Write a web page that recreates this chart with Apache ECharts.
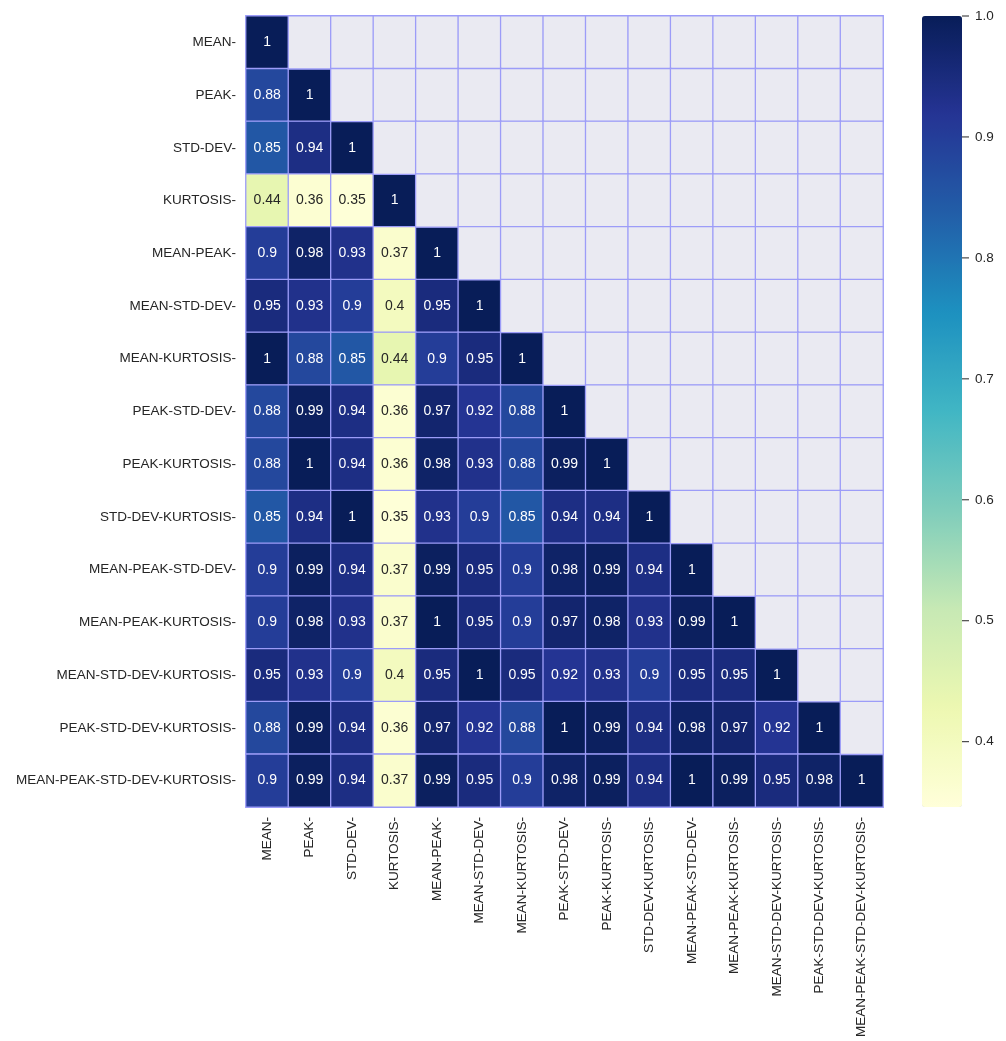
<!DOCTYPE html>
<html>
<head>
<meta charset="utf-8">
<title>Feature correlation heatmap</title>
<script src="https://cdn.jsdelivr.net/npm/echarts@6/dist/echarts.min.js"></script>
<style>
  html, body { margin: 0; padding: 0; background: #ffffff; }
  #chart { width: 1006px; height: 1041px; }
</style>
</head>
<body>
<div id="chart"></div>
<script>
// Feature combinations (row and column order are the same)
const features = [
  'MEAN-', 'PEAK-', 'STD-DEV-', 'KURTOSIS-', 'MEAN-PEAK-', 'MEAN-STD-DEV-',
  'MEAN-KURTOSIS-', 'PEAK-STD-DEV-', 'PEAK-KURTOSIS-', 'STD-DEV-KURTOSIS-',
  'MEAN-PEAK-STD-DEV-', 'MEAN-PEAK-KURTOSIS-', 'MEAN-STD-DEV-KURTOSIS-',
  'PEAK-STD-DEV-KURTOSIS-', 'MEAN-PEAK-STD-DEV-KURTOSIS-'
];

// Lower triangle of the correlation matrix, one row per feature
const rowMean = [1];
const rowPeak = [0.88, 1];
const rowStd = [0.85, 0.94, 1];
const rowKurt = [0.44, 0.36, 0.35, 1];
const rowMeanPeak = [0.9, 0.98, 0.93, 0.37, 1];
const rowMeanStd = [0.95, 0.93, 0.9, 0.4, 0.95, 1];
const rowMeanKurt = [1, 0.88, 0.85, 0.44, 0.9, 0.95, 1];
const rowPeakStd = [0.88, 0.99, 0.94, 0.36, 0.97, 0.92, 0.88, 1];
const rowPeakKurt = [0.88, 1, 0.94, 0.36, 0.98, 0.93, 0.88, 0.99, 1];
const rowStdKurt = [0.85, 0.94, 1, 0.35, 0.93, 0.9, 0.85, 0.94, 0.94, 1];
const rowMeanPeakStd = [0.9, 0.99, 0.94, 0.37, 0.99, 0.95, 0.9, 0.98, 0.99, 0.94, 1];
const rowMeanPeakKurt = [0.9, 0.98, 0.93, 0.37, 1, 0.95, 0.9, 0.97, 0.98, 0.93, 0.99, 1];
const rowMeanStdKurt = [0.95, 0.93, 0.9, 0.4, 0.95, 1, 0.95, 0.92, 0.93, 0.9, 0.95, 0.95, 1];
const rowPeakStdKurt = [0.88, 0.99, 0.94, 0.36, 0.97, 0.92, 0.88, 1, 0.99, 0.94, 0.98, 0.97, 0.92, 1];
const rowAll = [0.9, 0.99, 0.94, 0.37, 0.99, 0.95, 0.9, 0.98, 0.99, 0.94, 1, 0.99, 0.95, 0.98, 1];

const matrixRows = [
  rowMean, rowPeak, rowStd, rowKurt, rowMeanPeak, rowMeanStd, rowMeanKurt,
  rowPeakStd, rowPeakKurt, rowStdKurt, rowMeanPeakStd, rowMeanPeakKurt,
  rowMeanStdKurt, rowPeakStdKurt, rowAll
];

// Colour bar tick labels
const colorbarTicks = [0.4, 0.5, 0.6, 0.7, 0.8, 0.9, 1.0];
const colorMin = 0.346;
const colorMax = 1.0;

// YlGnBu colour ramp
const ylGnBu = ['#ffffd9', '#edf8b1', '#c7e9b4', '#7fcdbb', '#41b6c4',
                '#1d91c0', '#225ea8', '#253494', '#081d58'];

const FONT = "'Liberation Sans', Arial, Helvetica, sans-serif";
const TEXT_DARK = '#262626';
const CELL_EDGE = '#9c9cf8';
const TICK_LEN = 7;

const lowerCells = [];
const upperCells = [];
matrixRows.forEach((row, r) => {
  for (let c = 0; c < features.length; c++) {
    if (c < row.length) {
      const v = row[c];
      lowerCells.push({
        value: [c, r, v],
        label: { color: v < 0.6 ? TEXT_DARK : '#ffffff' }
      });
    } else {
      upperCells.push([c, r, 0]);
    }
  }
});

const chart = echarts.init(document.getElementById('chart'), null, { renderer: 'canvas' });

chart.setOption({
  backgroundColor: '#ffffff',
  animation: false,
  textStyle: { fontFamily: FONT },
  grid: [
    { left: 246, top: 16, width: 637, height: 791, containLabel: false },
    { left: 922, top: 16, width: 40, height: 791, containLabel: false }
  ],
  xAxis: [
    {
      type: 'category', gridIndex: 0, data: features, position: 'bottom',
      axisLine: { show: false }, axisTick: { show: false }, splitLine: { show: false },
      axisLabel: {
        rotate: 90, interval: 0, margin: 10,
        color: TEXT_DARK, fontSize: 13.5, fontFamily: FONT
      }
    },
    { type: 'value', gridIndex: 1, show: false, min: 0, max: 1 }
  ],
  yAxis: [
    {
      type: 'category', gridIndex: 0, data: features, inverse: true,
      axisLine: { show: false }, axisTick: { show: false }, splitLine: { show: false },
      axisLabel: {
        interval: 0, margin: 10,
        color: TEXT_DARK, fontSize: 13.5, fontFamily: FONT
      }
    },
    {
      type: 'value', gridIndex: 1, position: 'right',
      min: colorMin, max: colorMax,
      axisLine: { show: false },
      splitLine: { show: false },
      axisTick: { show: false },
      axisLabel: {
        margin: 13, color: TEXT_DARK, fontSize: 13.5, fontFamily: FONT,
        customValues: colorbarTicks,
        formatter: v => Number(v).toFixed(1)
      }
    }
  ],
  visualMap: {
    type: 'continuous',
    seriesIndex: 0,
    min: colorMin,
    max: colorMax,
    calculable: false,
    realtime: false,
    hoverLink: false,
    left: 922,
    top: 16,
    padding: 0,
    itemWidth: 40,
    itemHeight: 791,
    text: null,
    showLabel: false,
    inRange: { color: ylGnBu }
  },
  series: [
    {
      name: 'correlation',
      type: 'heatmap',
      xAxisIndex: 0, yAxisIndex: 0,
      data: lowerCells,
      itemStyle: { borderColor: CELL_EDGE, borderWidth: 1.3 },
      label: {
        show: true,
        fontSize: 14,
        fontFamily: FONT,
        formatter: p => String(p.value[2])
      },
      emphasis: { disabled: true }
    },
    {
      name: 'masked',
      type: 'heatmap',
      xAxisIndex: 0, yAxisIndex: 0,
      data: upperCells,
      itemStyle: { color: '#eaeaf2', borderColor: CELL_EDGE, borderWidth: 1.3 },
      label: { show: false },
      emphasis: { disabled: true }
    },
    {
      // tick marks on the right edge of the colour bar
      name: 'colorbar-ticks',
      type: 'custom',
      xAxisIndex: 1, yAxisIndex: 1,
      silent: true,
      data: colorbarTicks.map(v => [1, v]),
      renderItem: (params, api) => {
        const p = api.coord([api.value(0), api.value(1)]);
        return {
          type: 'line',
          shape: { x1: p[0], y1: p[1], x2: p[0] + TICK_LEN, y2: p[1] },
          style: { stroke: TEXT_DARK, lineWidth: 1 }
        };
      }
    }
  ]
});
</script>
</body>
</html>
